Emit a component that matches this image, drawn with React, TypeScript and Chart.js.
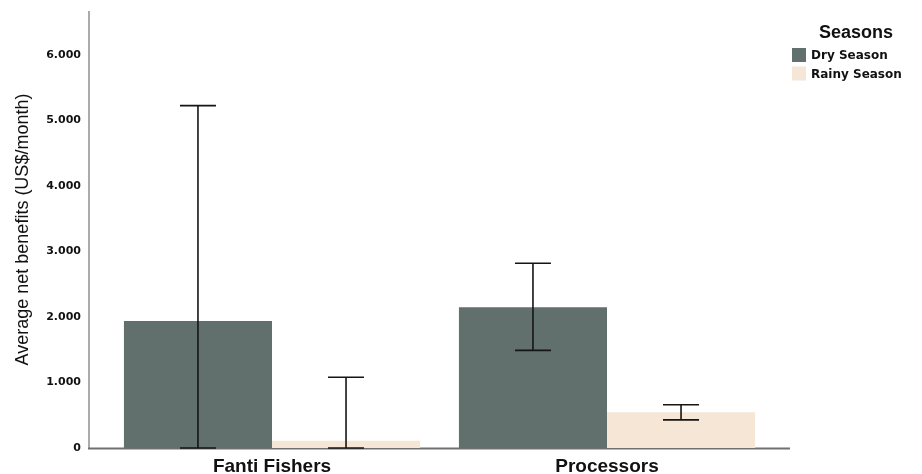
import React, { useEffect, useRef } from 'react';
import { Chart, registerables } from 'chart.js';

Chart.register(...registerables);

const categories = ['Fanti Fishers', 'Processors'];
const seriesNames = ['Dry Season', 'Rainy Season'];
const seriesColors = ['#61706c', '#f6e6d5'];
const dryValues = [1940, 2150];
const rainyValues = [110, 545];
const dryLower = [0, 1490];
const dryUpper = [5225, 2820];
const rainyLower = [0, 430];
const rainyUpper = [1080, 660];
const yTicks = [0, 1000, 2000, 3000, 4000, 5000, 6000];
const yMax = 6670;
const legendTitle = 'Seasons';
const yTitle = 'Average net benefits (US$/month)';

const lowers = [dryLower, rainyLower];
const uppers = [dryUpper, rainyUpper];

const fmt = (v: number) => String(v).replace(/\B(?=(\d{3})+(?!\d))/g, '.');

const axesPlugin = {
  id: 'customAxes',
  beforeDatasetsDraw(chart: any) {
    const { ctx } = chart;
    const y = chart.scales.y;
    const top = y.getPixelForValue(yMax);
    const bottom = y.getPixelForValue(0);
    ctx.save();
    ctx.lineWidth = 2;
    ctx.strokeStyle = '#ababab';
    ctx.beginPath();
    ctx.moveTo(89, top);
    ctx.lineTo(89, bottom);
    ctx.stroke();
    ctx.strokeStyle = '#707070';
    ctx.beginPath();
    ctx.moveTo(88, bottom + 0.5);
    ctx.lineTo(790, bottom + 0.5);
    ctx.stroke();
    ctx.restore();
  },
};

const errorBarPlugin = {
  id: 'errorBars',
  afterDatasetsDraw(chart: any) {
    const { ctx } = chart;
    const y = chart.scales.y;
    ctx.save();
    ctx.strokeStyle = '#151515';
    ctx.lineWidth = 1.6;
    chart.data.datasets.forEach((_: any, i: number) => {
      const meta = chart.getDatasetMeta(i);
      meta.data.forEach((el: any, j: number) => {
        const x = el.x;
        const yl = y.getPixelForValue(lowers[i][j]);
        const yu = y.getPixelForValue(uppers[i][j]);
        const half = 18;
        ctx.beginPath();
        ctx.moveTo(x, yu);
        ctx.lineTo(x, yl);
        ctx.moveTo(x - half, yu);
        ctx.lineTo(x + half, yu);
        ctx.moveTo(x - half, yl);
        ctx.lineTo(x + half, yl);
        ctx.stroke();
      });
    });
    ctx.restore();
  },
};

const legendPlugin = {
  id: 'customLegend',
  afterDraw(chart: any) {
    const { ctx } = chart;
    ctx.save();
    ctx.fillStyle = '#111';
    ctx.font = 'bold 18px "Liberation Sans", Arial, sans-serif';
    ctx.textAlign = 'center';
    ctx.textBaseline = 'middle';
    ctx.fillText(legendTitle, 856, 33);
    ctx.textAlign = 'left';
    ctx.font = 'bold 12px "DejaVu Sans", Verdana, sans-serif';
    chart.data.datasets.forEach((ds: any, i: number) => {
      const cy = 55 + i * 18.5;
      ctx.fillStyle = ds.backgroundColor;
      ctx.fillRect(792, cy - 7, 14, 14);
      ctx.fillStyle = '#111';
      ctx.fillText(ds.label, 811, cy + 1);
    });
    ctx.restore();
  },
};

export default function App() {
  const ref = useRef<HTMLCanvasElement>(null);
  useEffect(() => {
    if (!ref.current) return;
    const chart = new Chart(ref.current, {
      type: 'bar',
      data: {
        labels: categories,
        datasets: [
          { label: seriesNames[0], data: dryValues, backgroundColor: seriesColors[0] },
          { label: seriesNames[1], data: rainyValues, backgroundColor: seriesColors[1] },
        ],
      },
      options: {
        animation: false,
        responsive: false,
        devicePixelRatio: 1,
        layout: { padding: { left: 0, right: 147.5, top: 11, bottom: 0 } },
        datasets: { bar: { categoryPercentage: 0.884, barPercentage: 1, borderWidth: 0 } },
        plugins: { legend: { display: false }, tooltip: { enabled: false } },
        scales: {
          x: {
            grid: { display: false, drawTicks: false },
            border: { display: false },
            ticks: {
              color: '#111',
              padding: 7.5,
              font: { family: '"Liberation Sans", Arial, sans-serif', size: 19, weight: 'bold' },
            },
            afterFit(scale: any) {
              scale.height = 26;
              scale.paddingLeft = 0;
              scale.paddingRight = 0;
              scale.paddingTop = 0;
              scale.paddingBottom = 0;
            },
          },
          y: {
            min: 0,
            max: yMax,
            grid: { display: false, drawTicks: false },
            border: { display: false },
            afterBuildTicks(scale: any) {
              scale.ticks = yTicks.map((v) => ({ value: v }));
            },
            ticks: {
              color: '#111',
              padding: 23.5,
              font: { family: '"DejaVu Sans", Verdana, sans-serif', size: 11, weight: 'bold' },
              callback: (v: any) => fmt(Number(v)),
            },
            title: {
              display: true,
              text: yTitle,
              color: '#111',
              padding: { top: 12, bottom: 0 },
              font: { family: '"Liberation Sans", Arial, sans-serif', size: 18, weight: 'normal' },
            },
            afterFit(scale: any) {
              scale.width = 104.5;
              scale.paddingTop = 0;
              scale.paddingBottom = 0;
              scale.paddingLeft = 0;
              scale.paddingRight = 0;
            },
          },
        },
      },
      plugins: [axesPlugin, errorBarPlugin, legendPlugin],
    });
    return () => chart.destroy();
  }, []);
  return (
    <div style={{ position: 'fixed', left: 0, top: 0, width: 922, height: 474, background: '#fff' }}>
      <canvas ref={ref} width={922} height={474} />
    </div>
  );
}
